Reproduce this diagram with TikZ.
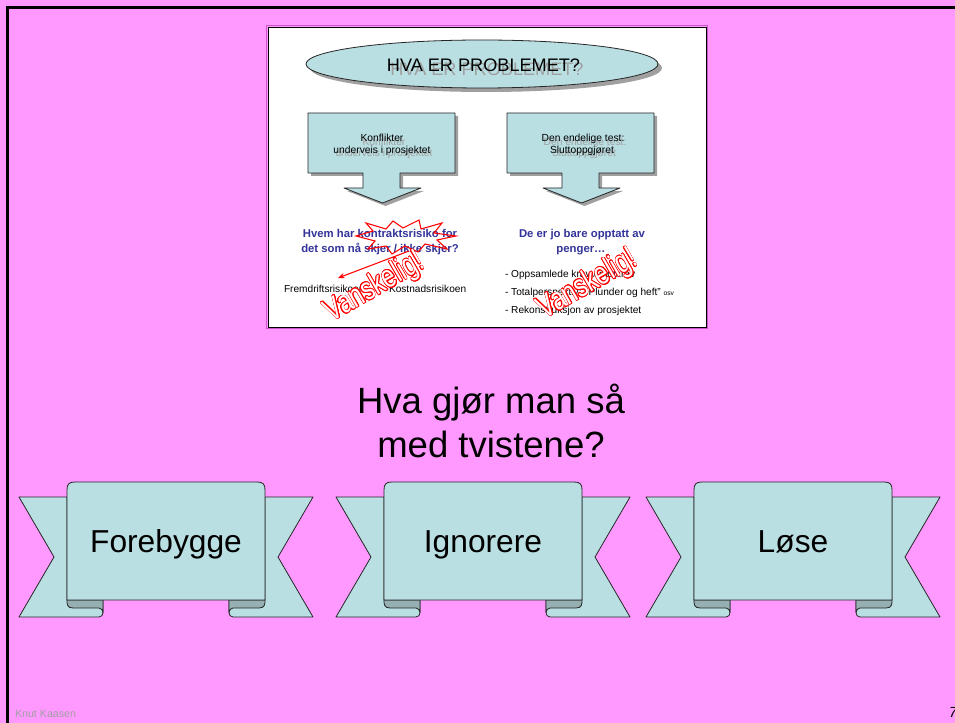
\documentclass[tikz,border=0pt]{standalone}
\usepackage{fontspec}
\setmainfont{Liberation Sans}
\usepackage{contour}
\contourlength{0.6pt}
\usetikzlibrary{arrows.meta}
\definecolor{bg}{HTML}{FF99FF}
\definecolor{ribfill}{HTML}{B9DFE3}
\definecolor{ribdark}{HTML}{95AFB2}
\definecolor{bluetxt}{HTML}{333399}
\definecolor{framecol}{HTML}{CC55CC}
\definecolor{shadecol}{HTML}{A0A0A0}
\definecolor{foot}{HTML}{A0A0A0}
\newcommand\ribbonshape[3]{%
\begin{scope}[shift={(#1,0)}]
  % left tail
  \filldraw[ribline] (-99,497) -- (-147,497) -- (-112,557) -- (-147,617) -- (-67,617)
     .. controls (-64.5,617) and (-63,615) .. (-63,612.5) -- (-63,600) -- (-99,600) -- cycle;
  \filldraw[ribline,fill=ribdark] (-99,600) -- (-63,600) -- (-63,612.5)
     .. controls (-63,610) and (-65,608) .. (-67,608) -- (-93,608)
     .. controls (-99,608) and (-99,604) .. (-99,600) -- cycle;
  % right tail
  \filldraw[ribline] (99,497) -- (147,497) -- (112,557) -- (147,617) -- (67,617)
     .. controls (64.5,617) and (63,615) .. (63,612.5) -- (63,600) -- (99,600) -- cycle;
  \filldraw[ribline,fill=ribdark] (99,600) -- (63,600) -- (63,612.5)
     .. controls (63,610) and (65,608) .. (67,608) -- (93,608)
     .. controls (99,608) and (99,604) .. (99,600) -- cycle;
  % front panel
  \filldraw[ribline] (-99,600) -- (-99,490) .. controls (-99,484) and (-97,482) .. (-91,482)
     -- (91,482) .. controls (97,482) and (99,484) .. (99,490) -- (99,600) -- cycle;
  \node[bantext] (#2) at (0,552) {#3};
\end{scope}}
\newcommand\calloutshape[2]{%
\begin{scope}[shift={(#1,113)}]
  \fill[shadecol] ([shift={(3,3)}]0,0) -- ++(147,0) -- ++(0,60) -- ++(-55,0) -- ++(0,15) -- ++(21,0)
     -- ++(-38.5,15) -- ++(-38.5,-15) -- ++(19,0) -- ++(0,-15) -- ++(-55,0) -- cycle;
  \filldraw[ribline] (0,0) -- (147,0) -- (147,60) -- (92,60) -- (92,75) -- (113,75)
     -- (74.5,90) -- (36,75) -- (55,75) -- (55,60) -- (0,60) -- cycle;
\end{scope}}
\begin{document}
\begin{tikzpicture}[x=0.75pt,y=-0.75pt,
  every node/.style={inner sep=0pt,outer sep=0pt},
  ribline/.style={draw=black!85,line width=0.6pt,fill=ribfill,line join=round},
  bantext/.style={anchor=base,font=\fontsize{23.8}{28}\selectfont},
  qtext/.style={anchor=base,font=\fontsize{27.4}{32}\selectfont},
  smalltxt/.style={anchor=base,font=\fontsize{7.7}{9}\selectfont},
  smallsh/.style={smalltxt,text=shadecol},
  bluebold/.style={anchor=base,text=bluetxt,font=\fontsize{8.5}{10}\selectfont\bfseries},
  listtxt/.style={anchor=base west,font=\fontsize{7.6}{9}\selectfont},
  redmark/.style={draw=red,line width=0.8pt},
  vansk/.style={font=\fontsize{24}{28}\selectfont,rotate=30,xscale=0.75}]
\useasboundingbox (0,0) rectangle (955,723);
\fill[bg] (0,0) rectangle (955,723);
\draw[line width=2.25pt] (7.5,723) -- (7.5,7.5) -- (955,7.5);

% ---- inner slide picture ----
\draw[framecol,line width=0.75pt] (266.5,25.5) rectangle (707.5,328.5);
\filldraw[fill=white,draw=black,line width=0.6pt] (268,27) rectangle (706,327);

\fill[shadecol] (486,68) ellipse [x radius=176, y radius=24];
\filldraw[ribline] (482,64) ellipse [x radius=176, y radius=24];
\node[anchor=base,text=shadecol,font=\fontsize{13.6}{16}\selectfont] (titlesh) at (487,76) {HVA ER PROBLEMET?};
\node[anchor=base,font=\fontsize{13.6}{16}\selectfont] (title) at (483.5,72) {HVA ER PROBLEMET?};

\calloutshape{308}{a}
\calloutshape{507}{b}
\node[smallsh] (k1s) at (384,145.5) {Konflikter};
\node[smallsh] (k2s) at (384,157) {underveis i prosjektet};
\node[smalltxt] (k1) at (382,142) {Konflikter};
\node[smalltxt] (k2) at (382,153.5) {underveis i prosjektet};
\node[smallsh] (d1s) at (585,145.5) {Den endelige test:};
\node[smallsh] (d2s) at (584,157) {Sluttoppgjøret};
\node[smalltxt] (d1) at (583,142) {Den endelige test:};
\node[smalltxt] (d2) at (582,153.5) {Sluttoppgjøret};

\node[bluebold] (h1) at (380,238) {Hvem har kontraktsrisiko for};
\node[bluebold] (h2) at (380,253) {det som nå skjer / ikke skjer?};
\node[bluebold] (p1) at (582,238) {De er jo bare opptatt av};
\node[bluebold] (p2) at (581,253) {penger…};

\node[listtxt] (fr) at (284,292) {Fremdriftsrisikoen};
\node[listtxt] (ko) at (389,292) {Kostnadsrisikoen};
\node[listtxt] (l1) at (505,277) {- Oppsamlede krav / motkrav};
\node[listtxt] (l2) at (505,296) {- Totalperspektiv: "Plunder og heft" {\fontsize{5}{6}\selectfont osv}};
\node[listtxt] (l3) at (505,313) {- Rekonstruksjon av prosjektet};

% red starburst and arrow
\draw[redmark,line join=miter] (356,236) -- (373,231) -- (366,223) -- (386,229) -- (393,221) -- (403,228)
  -- (419,220) -- (421,229) -- (442,223) -- (434,233) -- (456,236) -- (437,240) -- (447,249)
  -- (425,244) -- (418,252) -- (405,246) -- (392,254) -- (386,246) -- (368,249) -- (375,241) -- cycle;
\coordinate (arrS) at (409,251);
\coordinate (arrE) at (338,278);
\draw[redmark,-{Stealth[length=5pt,width=4pt]}] (arrS) -- (arrE);
\node[vansk] (v1) at (375,288) {\contour{red}{\textcolor{white}{Vanskelig!}}};
\node[vansk] (v2) at (588,285) {\contour{red}{\textcolor{white}{Vanskelig!}}};

% ---- question ----
\node[qtext] (q1) at (491,413) {Hva gjør man så};
\node[qtext] (q2) at (491,457) {med tvistene?};

% ---- ribbons ----
\ribbonshape{166}{r1}{Forebygge}
\ribbonshape{483}{r2}{Ignorere}
\ribbonshape{793}{r3}{Løse}

% ---- footer ----
\node[anchor=base west,text=foot,font=\fontsize{8}{9}\selectfont] (foot) at (15,717) {Knut Kaasen};
\node[anchor=base west,font=\fontsize{11}{12}\selectfont\itshape] (pg) at (949,717) {7};
\end{tikzpicture}
\end{document}
